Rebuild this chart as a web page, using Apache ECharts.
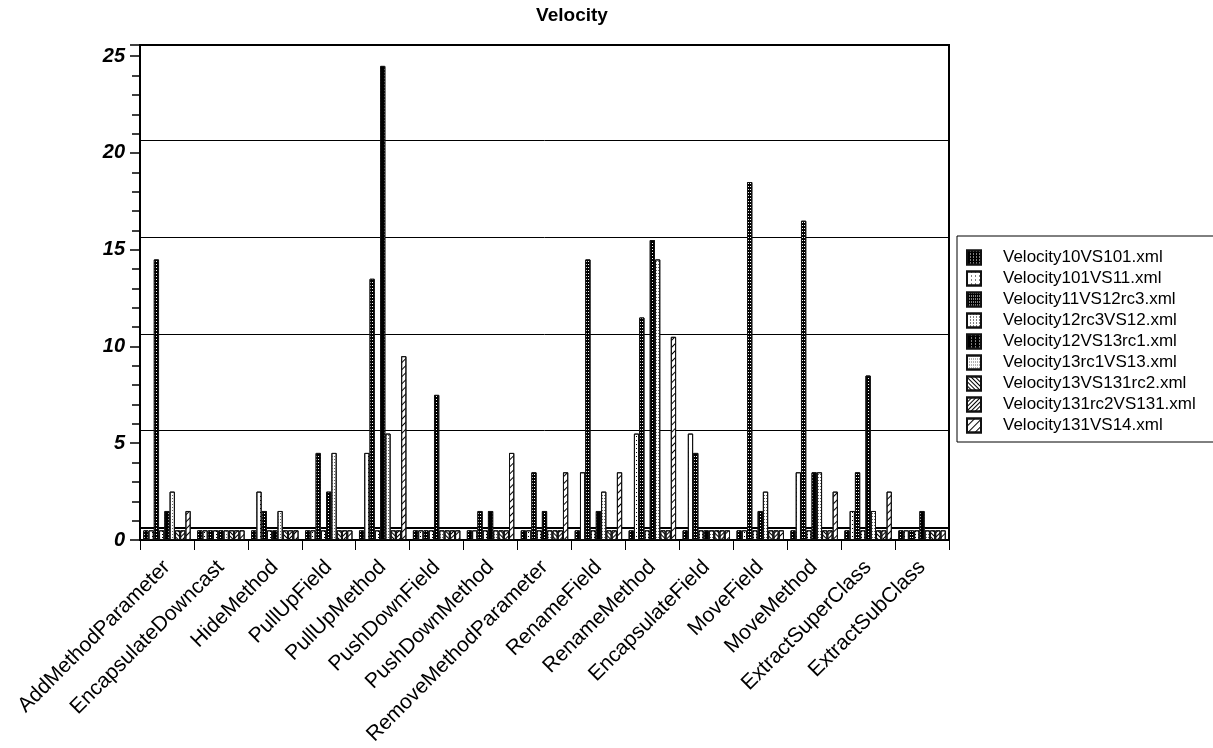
<!DOCTYPE html>
<html>
<head>
<meta charset="utf-8">
<script src="https://cdn.jsdelivr.net/npm/echarts@6/dist/echarts.min.js"></script>
<style>
  html, body { margin: 0; padding: 0; background: #fff; }
  #main { width: 1213px; height: 748px; }
</style>
</head>
<body>
<div id="main"></div>
<script>
// categories (refactorings)
var categories = ['AddMethodParameter', 'EncapsulateDowncast', 'HideMethod', 'PullUpField',
  'PullUpMethod', 'PushDownField', 'PushDownMethod', 'RemoveMethodParameter', 'RenameField',
  'RenameMethod', 'EncapsulateField', 'MoveField', 'MoveMethod', 'ExtractSuperClass', 'ExtractSubClass'];

var seriesNames = ['Velocity10VS101.xml', 'Velocity101VS11.xml', 'Velocity11VS12rc3.xml',
  'Velocity12rc3VS12.xml', 'Velocity12VS13rc1.xml', 'Velocity13rc1VS13.xml',
  'Velocity13VS131rc2.xml', 'Velocity131rc2VS131.xml', 'Velocity131VS14.xml'];

// bar heights
var v10VS101    = [0.5, 0.5, 0.5, 0.5, 0.5, 0.5, 0.5, 0.5, 0.5, 0.5, 0.5, 0.5, 0.5, 0.5, 0.5];
var v101VS11    = [0.5, 0.5, 2.5, 0.5, 4.5, 0.5, 0.5, 0.5, 3.5, 5.5, 5.5, 0.5, 3.5, 1.5, 0.5];
var v11VS12rc3  = [14.5, 0.5, 1.5, 4.5, 13.5, 0.5, 1.5, 3.5, 14.5, 11.5, 4.5, 18.5, 16.5, 3.5, 0.5];
var v12rc3VS12  = [0.5, 0.5, 0.5, 0.5, 0.5, 0.5, 0.5, 0.5, 0.5, 0.5, 0.5, 0.5, 0.5, 0.5, 0.5];
var v12VS13rc1  = [1.5, 0.5, 0.5, 2.5, 24.5, 7.5, 1.5, 1.5, 1.5, 15.5, 0.5, 1.5, 3.5, 8.5, 1.5];
var v13rc1VS13  = [2.5, 0.5, 1.5, 4.5, 5.5, 0.5, 0.5, 0.5, 2.5, 14.5, 0.5, 2.5, 3.5, 1.5, 0.5];
var v13VS131rc2 = [0.5, 0.5, 0.5, 0.5, 0.5, 0.5, 0.5, 0.5, 0.5, 0.5, 0.5, 0.5, 0.5, 0.5, 0.5];
var v131rc2VS131 = [0.5, 0.5, 0.5, 0.5, 0.5, 0.5, 0.5, 0.5, 0.5, 0.5, 0.5, 0.5, 0.5, 0.5, 0.5];
var v131VS14    = [1.5, 0.5, 0.5, 0.5, 9.5, 0.5, 4.5, 3.5, 3.5, 10.5, 0.5, 0.5, 2.5, 2.5, 0.5];

var allData = [v10VS101, v101VS11, v11VS12rc3, v12rc3VS12, v12VS13rc1, v13rc1VS13,
  v13VS131rc2, v131rc2VS131, v131VS14];

// black & white fill patterns, one per series
var fills = [
  { color: '#000', decal: { symbol: 'rect', symbolSize: 1, color: '#fff', dashArrayX: [1, 2], dashArrayY: [1, 2] } },
  { color: '#fff', decal: { symbol: 'rect', symbolSize: 1, color: '#000', dashArrayX: [1, 3], dashArrayY: [1, 3] } },
  { color: '#000', decal: { symbol: 'rect', symbolSize: 1, color: '#fff', dashArrayX: [1, 1], dashArrayY: [1, 2] } },
  { color: '#fff', decal: { symbol: 'rect', symbolSize: 1, color: '#000', dashArrayX: [1, 2], dashArrayY: [1, 2] } },
  { color: '#000', decal: { symbol: 'rect', symbolSize: 1, color: '#fff', dashArrayX: [1, 3], dashArrayY: [1, 2] } },
  { color: '#fff', decal: { symbol: 'rect', symbolSize: 1, color: '#666', dashArrayX: [1, 1], dashArrayY: [1, 2] } },
  { color: '#fff', decal: { symbol: 'rect', symbolSize: 1, color: '#000', dashArrayX: [1, 0], dashArrayY: [1, 2], rotation: Math.PI / 4 } },
  { color: '#fff', decal: { symbol: 'rect', symbolSize: 1, color: '#000', dashArrayX: [1, 0], dashArrayY: [1, 2], rotation: -Math.PI / 4 } },
  { color: '#fff', decal: { symbol: 'rect', symbolSize: 1, color: '#000', dashArrayX: [1, 0], dashArrayY: [1, 4], rotation: -Math.PI / 4 } }
];

var font = 'Liberation Sans, Arial, sans-serif';

var series = [];
seriesNames.forEach(function (name, i) {
  series.push({
    name: name,
    type: 'bar',
    xAxisIndex: 0,
    yAxisIndex: 0,
    barGap: 0,
    barCategoryGap: '12%',
    data: allData[i],
    itemStyle: {
      color: fills[i].color,
      borderColor: '#111',
      borderWidth: 1,
      decal: fills[i].decal
    }
  });
});

var chart = echarts.init(document.getElementById('main'));
var option = {
  animation: false,
  backgroundColor: '#fff',
  title: {
    text: 'Velocity',
    left: 567,
    textAlign: 'center',
    top: 1,
    textStyle: { fontFamily: font, fontSize: 19, fontWeight: 'bold', color: '#000' }
  },
  legend: {
    orient: 'vertical',
    left: 957,
    top: 236,
    itemWidth: 14,
    itemHeight: 14,
    itemGap: 4,
    padding: [13, 40, 8, 9],
    borderColor: '#000',
    borderWidth: 1,
    icon: 'rect',
    data: seriesNames,
    textStyle: { fontFamily: font, fontSize: 17, color: '#000', padding: [0, 0, 0, 17] }
  },
  grid: [
    { left: 140, right: 264, top: 45, bottom: 208, show: true, borderColor: '#000', borderWidth: 2 },
    // back wall: offset gridlines of the 3D original
    { left: 140, right: 264, top: 45, bottom: 220.6 }
  ],
  xAxis: [
    {
      type: 'category',
      gridIndex: 0,
      data: categories,
      axisLine: { lineStyle: { color: '#000', width: 2 } },
      axisTick: { show: true, length: 10, lineStyle: { color: '#000' } },
      axisLabel: { rotate: 45, margin: 24, interval: 0, fontFamily: font, fontSize: 21, color: '#000' }
    },
    {
      type: 'category',
      gridIndex: 1,
      data: categories,
      axisLine: { show: true, lineStyle: { color: '#000', width: 2 } },
      axisTick: { show: false },
      axisLabel: { show: false }
    }
  ],
  yAxis: [
    {
      type: 'value',
      gridIndex: 0,
      min: 0,
      max: 25.58,
      interval: 5,
      axisLine: { show: true, lineStyle: { color: '#000', width: 2 } },
      axisTick: { show: true, length: 10, lineStyle: { color: '#000', width: 1.5 } },
      minorTick: { show: true, splitNumber: 5, length: 8, lineStyle: { color: '#000', width: 1.5 } },
      splitLine: { show: false },
      axisLabel: {
        margin: 15, showMaxLabel: false,
        fontFamily: font, fontSize: 20, fontWeight: 'bold', fontStyle: 'italic', color: '#000'
      }
    },
    {
      type: 'value',
      gridIndex: 1,
      min: 0,
      max: 24.93,
      interval: 5,
      axisLine: { show: false },
      axisTick: { show: false },
      axisLabel: { show: false },
      splitLine: { show: true, lineStyle: { color: '#000', width: 1 } }
    }
  ],
  series: series
};
chart.setOption(option);
</script>
</body>
</html>
